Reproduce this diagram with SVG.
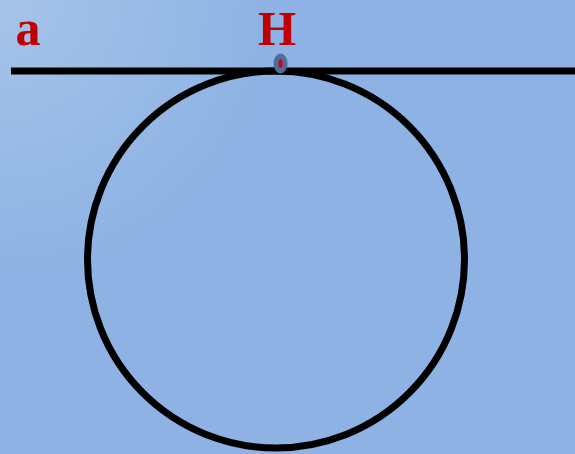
<svg xmlns="http://www.w3.org/2000/svg" width="575" height="454" viewBox="0 0 575 454">
<defs>
<radialGradient id="bg" cx="0" cy="0" r="280" gradientUnits="userSpaceOnUse">
<stop offset="0" stop-color="#a6c4e9"/>
<stop offset="1" stop-color="#8db2e3"/>
</radialGradient>
<style>
.lbl{font-family:"Liberation Serif",serif;font-weight:bold;fill:#c00000}
.shape{fill:none;stroke:#000;stroke-width:7}
</style>
</defs>
<rect width="575" height="454" fill="url(#bg)"/>
<g id="connectors">
<line class="shape" x1="11" y1="71" x2="575" y2="71"/>
</g>
<g id="circle">
<circle class="shape" cx="276" cy="259.5" r="188.5"/>
</g>
<g id="point-H">
<ellipse cx="280.5" cy="63.5" rx="7" ry="10" fill="#4d6e9c"/>
<ellipse cx="280.5" cy="63.5" rx="2" ry="4.5" fill="#e00000"/>
<text class="lbl" x="277" y="45" font-size="49" text-anchor="middle">H</text>
</g>
<g id="line-a">
<text class="lbl" x="28" y="45" font-size="50" text-anchor="middle">a</text>
</g>
</svg>
